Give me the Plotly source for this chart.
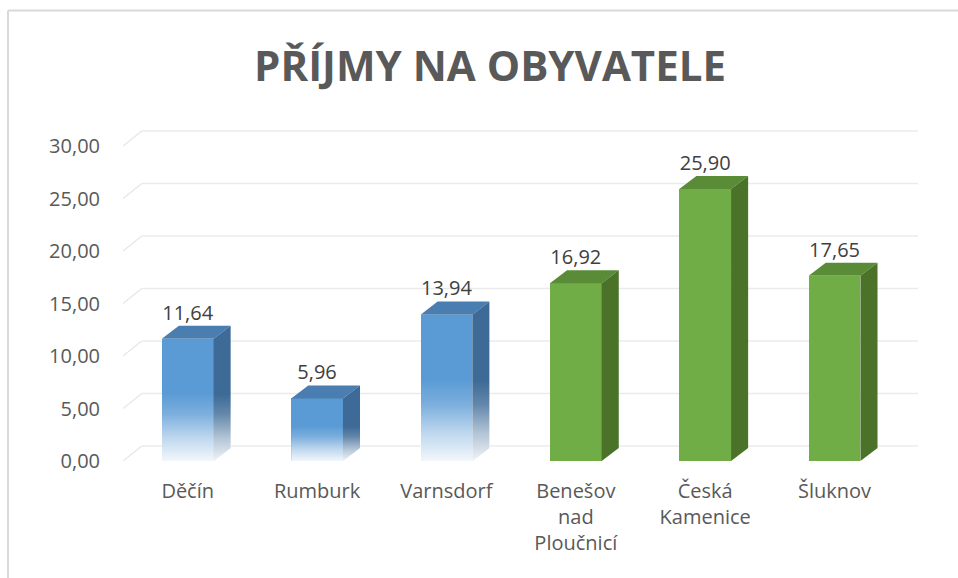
import plotly.graph_objects as go

# data
mesta = ['Děčín', 'Rumburk', 'Varnsdorf', 'Benešov<br>nad<br>Ploučnicí', 'Česká<br>Kamenice', 'Šluknov']
prijmy = [11.64, 5.96, 13.94, 16.92, 25.90, 17.65]
skupina = ['modra', 'modra', 'modra', 'zelena', 'zelena', 'zelena']
y_ticks = [0, 5, 10, 15, 20, 25, 30]

# colours (front, top, side)
barvy = {
    'modra': ('#5B9BD5', '#4A7DB0', '#3D6A96'),
    'zelena': ('#70AD47', '#5A8C38', '#4A7229'),
}

BAR_W = 0.4
BAR_DX, BAR_DY = 0.132, 1.24    # fake 3D depth of the bars
WALL_DX, WALL_DY = 0.145, 1.42  # depth of the back wall
X_MIN, X_MAX = -0.5, 5.5 + WALL_DX

idx = list(range(len(mesta)))
fig = go.Figure()

# front faces
fig.add_trace(go.Bar(
    x=idx, y=prijmy, width=BAR_W,
    marker=dict(color=[barvy[s][0] for s in skupina], line=dict(width=0)),
    hoverinfo='skip', showlegend=False
))

# top and side faces
for s in barvy:
    top_x, top_y, side_x, side_y = [], [], [], []
    for i, v, g in zip(idx, prijmy, skupina):
        if g != s:
            continue
        xl, xr = i - BAR_W / 2, i + BAR_W / 2
        top_x += [xl, xr, xr + BAR_DX, xl + BAR_DX, xl, None]
        top_y += [v, v, v + BAR_DY, v + BAR_DY, v, None]
        side_x += [xr, xr + BAR_DX, xr + BAR_DX, xr, xr, None]
        side_y += [0, BAR_DY, v + BAR_DY, v, 0, None]
    fig.add_trace(go.Scatter(x=top_x, y=top_y, fill='toself', mode='lines',
                             fillcolor=barvy[s][1], line=dict(width=0),
                             hoverinfo='skip', showlegend=False))
    fig.add_trace(go.Scatter(x=side_x, y=side_y, fill='toself', mode='lines',
                             fillcolor=barvy[s][2], line=dict(width=0),
                             hoverinfo='skip', showlegend=False))

# white fade at the bottom of the blue bars
for i, v, g in zip(idx, prijmy, skupina):
    if g != 'modra':
        continue
    xl, xr = i - BAR_W / 2, i + BAR_W / 2
    xs = xr + BAR_DX + 0.005
    h = v * 0.55
    fig.add_trace(go.Scatter(
        x=[xl, xr, xs, xs, xr, xl, xl],
        y=[-0.05, -0.05, BAR_DY, h + BAR_DY, h, h, -0.05],
        fill='toself', mode='lines', line=dict(width=0),
        fillgradient=dict(type='vertical', start=0, stop=h,
                          colorscale=[[0, 'rgba(255,255,255,0.92)'],
                                      [0.35, 'rgba(255,255,255,0.6)'],
                                      [0.7, 'rgba(255,255,255,0.2)'],
                                      [1, 'rgba(255,255,255,0)']]),
        hoverinfo='skip', showlegend=False
    ))

# data labels
fig.add_trace(go.Scatter(
    x=idx, y=[v + 2.3 for v in prijmy], mode='text',
    text=[f'{v:.2f}'.replace('.', ',') for v in prijmy],
    textposition='middle center',
    textfont=dict(family='Open Sans', size=20, color='#404040'),
    cliponaxis=False, hoverinfo='skip', showlegend=False
))

# back wall gridlines + diagonal connectors
shapes = []
for t in y_ticks:
    shapes.append(dict(type='line', xref='x', yref='y', layer='below',
                       x0=X_MIN + WALL_DX, x1=X_MAX, y0=t + WALL_DY, y1=t + WALL_DY,
                       line=dict(color='#EBEBEB', width=1.5)))
    shapes.append(dict(type='line', xref='x', yref='y', layer='below',
                       x0=X_MIN, x1=X_MIN + WALL_DX, y0=t, y1=t + WALL_DY,
                       line=dict(color='#E6E6E6', width=1.2)))
# chart border (left and top)
top_b = (578 - 10.5 - 117) / 336
left_b = (8 - 123) / 795
shapes.append(dict(type='line', xref='paper', yref='paper', x0=left_b, x1=left_b,
                   y0=-0.5, y1=top_b, line=dict(color='#D9D9D9', width=2)))
shapes.append(dict(type='line', xref='paper', yref='paper', x0=left_b, x1=1.2,
                   y0=top_b, y1=top_b, line=dict(color='#D9D9D9', width=2)))

fig.update_layout(
    width=958, height=578,
    margin=dict(l=123, r=40, t=125, b=117),
    paper_bgcolor='white', plot_bgcolor='white',
    title=dict(text='<b>PŘÍJMY NA OBYVATELE</b>', x=0.5115, xanchor='center',
               y=1 - 66 / 578, yanchor='middle',
               font=dict(family='Open Sans', size=42, color='#595959')),
    font=dict(family='Open Sans', color='#595959'),
    xaxis=dict(range=[X_MIN, X_MAX], tickvals=idx, ticktext=mesta,
               showgrid=False, zeroline=False, showline=False, ticks='',
               ticklabelstandoff=16,
               tickfont=dict(family='Open Sans', size=20, color='#595959')),
    yaxis=dict(range=[0, 32], tickvals=y_ticks,
               ticktext=[f'{t:.2f}'.replace('.', ',') for t in y_ticks],
               showgrid=False, zeroline=False, showline=False, ticks='',
               ticklabelstandoff=22,
               tickfont=dict(family='Open Sans', size=20, color='#595959')),
    shapes=shapes,
    bargap=0
)

fig.write_html("out.html", config={'displayModeBar': False},
               post_script="document.body.style.margin='0';")
